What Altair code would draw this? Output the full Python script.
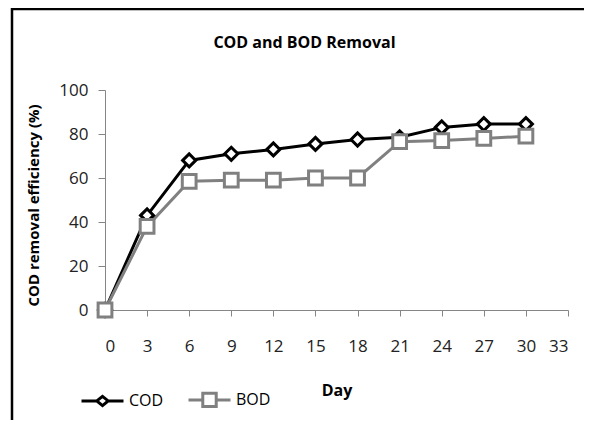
import altair as alt
import pandas as pd

days = [0, 3, 6, 9, 12, 15, 18, 21, 24, 27, 30]
cod = [0, 43, 68, 71, 73, 75.5, 77.5, 78.5, 83, 84.5, 84.5]
bod = [0, 38, 58.5, 59, 59, 60, 60, 76.5, 77, 78, 79]
series = ["COD", "BOD"]
x_ticks = [0, 3, 6, 9, 12, 15, 18, 21, 24, 27, 30, 33]
y_ticks = [0, 20, 40, 60, 80, 100]

df = pd.DataFrame({
    "Day": days + days,
    "Value": cod + bod,
    "Series": ["COD"] * len(days) + ["BOD"] * len(days),
})

FONT = "Open Sans"
AXIS_GRAY = "#868686"
colors = ["#000000", "#808080"]

cod_sym = "M-1,0L-0.27,0M-0.27,0L0,-0.22L0.27,0L0,0.22ZM0.27,0L1,0"
bod_sym = "M-1,0L-0.32,0M-0.32,-0.32L0.32,-0.32L0.32,0.32L-0.32,0.32ZM0.32,0L1,0"

x_enc = alt.X(
    "Day:Q",
    scale=alt.Scale(domain=[0, 33], nice=False, zero=False),
    axis=alt.Axis(
        values=x_ticks, title="Day", grid=False,
        domainColor=AXIS_GRAY, tickColor=AXIS_GRAY, tickSize=6,
        labelFont=FONT, labelFontSize=17, labelColor="#222222", labelPadding=22,
        titleFont=FONT, titleFontSize=16, titleFontWeight="bold", titleColor="#000000",
        titleY=80, titleBaseline="middle",
    ),
)
y_enc = alt.Y(
    "Value:Q",
    scale=alt.Scale(domain=[0, 100], nice=False),
    axis=alt.Axis(
        values=y_ticks, title="COD removal efficiency (%)", grid=False,
        domainColor=AXIS_GRAY, tickColor=AXIS_GRAY, tickSize=7,
        labelFont=FONT, labelFontSize=17, labelColor="#222222", labelPadding=10,
        titleFont=FONT, titleFontSize=15, titleFontWeight="bold", titleColor="#000000",
        titleX=-72, titleY=115, titleAngle=270, titleBaseline="middle", titleAlign="center",
    ),
)

legend = alt.Legend(
    orient="none", legendX=-25, legendY=287, direction="horizontal", title=None,
    padding=0, symbolSize=1764, symbolStrokeWidth=3, symbolOpacity=1,
    labelFont=FONT, labelFontSize=16, labelColor="#000000", labelOffset=4,
    columnPadding=18,
)

base = alt.Chart(df)
stroke_scale = alt.Scale(domain=series, range=colors)

lines = base.mark_line(strokeWidth=3, opacity=1).encode(
    x=x_enc, y=y_enc,
    stroke=alt.Stroke("Series:N", scale=stroke_scale, legend=legend),
    detail="Series:N",
)

cod_points = base.mark_point(
    shape="diamond", size=170, fill="white", strokeWidth=3, opacity=1, filled=False
).encode(
    x=x_enc, y=y_enc,
    stroke=alt.Stroke("Series:N", scale=stroke_scale, legend=legend),
).transform_filter(alt.datum.Series == "COD")

bod_points = base.mark_point(
    shape="square", size=190, fill="white", strokeWidth=3, opacity=1, filled=False
).encode(
    x=x_enc, y=y_enc,
    stroke=alt.Stroke("Series:N", scale=stroke_scale, legend=legend),
).transform_filter(alt.datum.Series == "BOD")

legend_layer = base.mark_point(filled=False, strokeWidth=3, opacity=1).encode(
    x=x_enc, y=y_enc,
    stroke=alt.Stroke("Series:N", scale=stroke_scale, legend=legend),
    shape=alt.Shape("Series:N", scale=alt.Scale(domain=series, range=[cod_sym, bod_sym]), legend=legend),
).transform_filter("false")

frame_df = pd.DataFrame({"k": [0]})
frame_left = alt.Chart(frame_df).mark_rule(color="black", strokeWidth=2.5).encode(
    x=alt.value(-93), y=alt.value(-82), y2=alt.value(340)
)
frame_top = alt.Chart(frame_df).mark_rule(color="black", strokeWidth=2.5).encode(
    x=alt.value(-94), x2=alt.value(500), y=alt.value(-81)
)

chart = alt.layer(frame_left, frame_top, lines, cod_points, bod_points, legend_layer).properties(
    width=463,
    height=220,
    padding={"left": 97, "top": 82, "right": 16, "bottom": 110},
    autosize=alt.AutoSizeParams(type="none"),
    title=alt.TitleParams(
        "COD and BOD Removal", font=FONT, fontSize=16, fontWeight="bold",
        color="#000000", anchor="middle", dx=-32, dy=44, offset=0,
    ),
).configure_view(stroke=None)

chart.save("out.html", embed_options={"renderer": "svg", "actions": False})
